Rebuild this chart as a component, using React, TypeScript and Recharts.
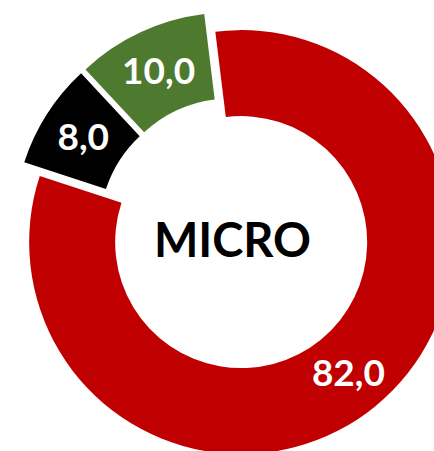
import React from 'react';
import { PieChart, Pie, Cell } from 'recharts';

const categories = ['Categoria 1', 'Categoria 2', 'Categoria 3'];
const values = [82.0, 8.0, 10.0];
const colors = ['#C00000', '#000000', '#4E7A2F'];
const centerTitle = 'MICRO';

const W = 434;
const H = 451;
const CX = 234.5;
const CY = 234;
const INNER = 126;
const OUTER = 212;
const START = 97;
const END = START - 360;
const EXPLODE = 10.5;
const FONT = 'Lato, "Open Sans", "DejaVu Sans", sans-serif';
const RAD = Math.PI / 180;

const data = categories.map((name, i) => ({ name, value: values[i] }));
const total = values.reduce((a, b) => a + b, 0);

const midAngles = values.map((v, i) => {
  const before = values.slice(0, i).reduce((a, b) => a + b, 0);
  return START - ((before + v / 2) / total) * 360;
});

const fmt = (v: number) => v.toFixed(1).replace('.', ',');

const makeLabel = (k: number) => (props: any) => {
  const { cx, cy, midAngle, innerRadius, outerRadius, index, value } = props;
  if (index !== k) return null;
  const r = (innerRadius + outerRadius) / 2;
  const x = cx + r * Math.cos(-midAngle * RAD);
  const y = cy + r * Math.sin(-midAngle * RAD);
  return (
    <text
      x={x}
      y={y + 13}
      fill="#ffffff"
      textAnchor="middle"
      fontFamily={FONT}
      fontWeight={700}
      fontSize={37}
    >
      {fmt(value)}
    </text>
  );
};

export default function App() {
  return (
    <div style={{ position: 'absolute', left: 0, top: 0, width: W, height: H, overflow: 'hidden', background: '#fff' }}>
      <PieChart width={W} height={H} margin={{ top: 0, right: 0, bottom: 0, left: 0 }}>
        {values.map((_, k) => (
          <Pie
            key={k}
            data={data}
            dataKey="value"
            nameKey="name"
            cx={CX + EXPLODE * Math.cos(midAngles[k] * RAD)}
            cy={CY - EXPLODE * Math.sin(midAngles[k] * RAD)}
            innerRadius={INNER}
            outerRadius={OUTER}
            startAngle={START}
            endAngle={END}
            stroke="none"
            isAnimationActive={false}
            labelLine={false}
            label={makeLabel(k)}
          >
            {data.map((d, i) => (
              <Cell key={d.name} fill={i === k ? colors[i] : 'transparent'} stroke="none" />
            ))}
          </Pie>
        ))}
        <text
          x={232.5}
          y={257}
          textAnchor="middle"
          fill="#000000"
          fontFamily={FONT}
          fontWeight={700}
          fontSize={47}
        >
          {centerTitle}
        </text>
      </PieChart>
    </div>
  );
}
